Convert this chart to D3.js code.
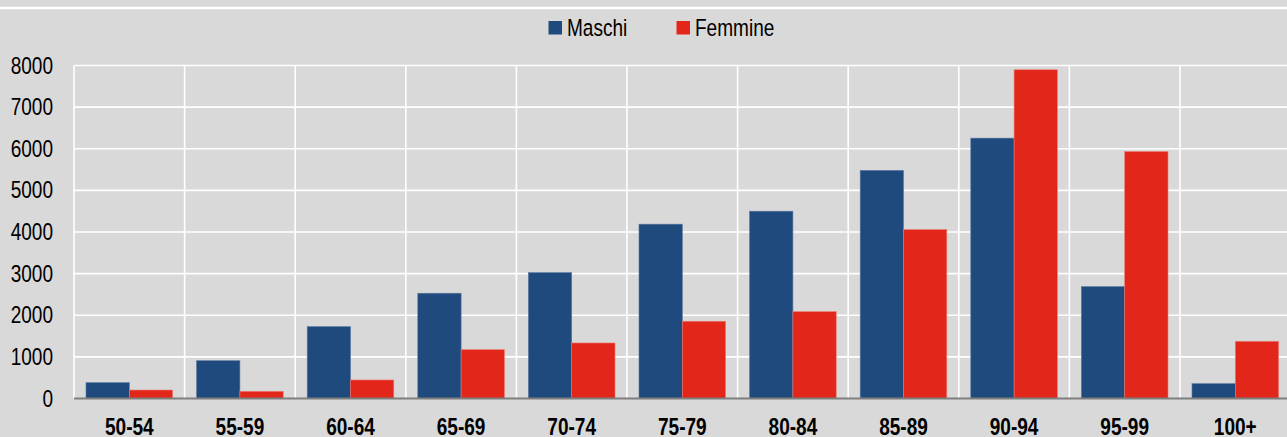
<!DOCTYPE html>
<html>
<head>
<meta charset="utf-8">
<script src="https://cdn.jsdelivr.net/npm/d3@7"></script>
<style>
  body { margin: 0; background: #d9d9d9; }
  svg { display: block; font-family: "Liberation Sans", Arial, sans-serif; }
</style>
</head>
<body>
<svg id="age_chart" width="1287" height="437"></svg>
<script>
// data
const age_groups = ["50-54", "55-59", "60-64", "65-69", "70-74", "75-79", "80-84", "85-89", "90-94", "95-99", "100+"];
const series_names = ["Maschi", "Femmine"];
const maschi = [380, 908, 1726, 2529, 3024, 4188, 4500, 5480, 6255, 2688, 356];
const femmine = [204, 173, 445, 1173, 1334, 1856, 2087, 4058, 7897, 5933, 1375];
const y_ticks = [0, 1000, 2000, 3000, 4000, 5000, 6000, 7000, 8000];

const series_colors = { Maschi: "#1f4a7d", Femmine: "#e3261a" };
const squeeze = 0.81; // the text in the picture is narrowed horizontally

const svg_age = d3.select("svg#age_chart");
const age_margin = { left: 74, top: 65.5, bottom: 398.5, right: 1290.6 };

svg_age.append("rect")
  .attr("width", 1287)
  .attr("height", 437)
  .attr("fill", "#d9d9d9");

// white rule at the top
svg_age.append("line")
  .attr("x1", 0).attr("x2", 1287)
  .attr("y1", 8).attr("y2", 8)
  .attr("stroke", "white")
  .attr("stroke-width", 2.5);

const x_scale = d3.scaleBand(age_groups, [age_margin.left, age_margin.right])
  .paddingInner(0).paddingOuter(0);
const sex_scale = d3.scaleBand(series_names, [0, x_scale.bandwidth()])
  .paddingInner(0).paddingOuter(0.277);
const y_scale = d3.scaleLinear([0, 8000], [age_margin.bottom, age_margin.top]);

const grid = svg_age.append("g").attr("id", "grid_group");

grid.selectAll("line.h_grid")
  .data(y_ticks.slice(1))
  .join("line")
  .attr("class", "h_grid")
  .attr("x1", age_margin.left)
  .attr("x2", age_margin.right)
  .attr("y1", d => y_scale(d))
  .attr("y2", d => y_scale(d))
  .attr("stroke", "white")
  .attr("stroke-width", 1.6);

grid.selectAll("line.v_grid")
  .data(age_groups)
  .join("line")
  .attr("class", "v_grid")
  .attr("x1", d => x_scale(d))
  .attr("x2", d => x_scale(d))
  .attr("y1", age_margin.top)
  .attr("y2", age_margin.bottom)
  .attr("stroke", "white")
  .attr("stroke-width", 1.6);

let bar_data = new Array();
for (i = 0; i < age_groups.length; i++) {
  bar_data.push({ group: age_groups[i], sex: "Maschi", value: maschi[i] });
  bar_data.push({ group: age_groups[i], sex: "Femmine", value: femmine[i] });
}

svg_age.append("g")
  .attr("id", "bar_group")
  .selectAll("rect.bar")
  .data(bar_data)
  .join("rect")
  .attr("class", "bar")
  .attr("x", d => x_scale(d.group) + sex_scale(d.sex))
  .attr("y", d => y_scale(d.value))
  .attr("width", sex_scale.bandwidth())
  .attr("height", d => y_scale(0) - y_scale(d.value))
  .attr("fill", d => series_colors[d.sex])
  .attr("stroke", d => d.sex == "Maschi" ? "#5a77a0" : "#ee7a72")
  .attr("stroke-width", 0.6);

// baseline
svg_age.append("line")
  .attr("x1", age_margin.left)
  .attr("x2", age_margin.right)
  .attr("y1", y_scale(0))
  .attr("y2", y_scale(0))
  .attr("stroke", "#7f7f7f")
  .attr("stroke-width", 2);

// y tick labels
svg_age.append("g")
  .selectAll("text.y_label")
  .data(y_ticks)
  .join("text")
  .attr("class", "y_label")
  .attr("transform", d => `translate(53, ${y_scale(d) + 8}) scale(${squeeze}, 1)`)
  .attr("text-anchor", "end")
  .attr("font-size", 23.5)
  .attr("fill", "#000")
  .text(d => d);

// x tick labels
svg_age.append("g")
  .selectAll("text.x_label")
  .data(age_groups)
  .join("text")
  .attr("class", "x_label")
  .attr("transform", d => `translate(${x_scale(d) + x_scale.bandwidth() / 2}, 435) scale(${squeeze}, 1)`)
  .attr("text-anchor", "middle")
  .attr("font-size", 23.5)
  .attr("font-weight", "bold")
  .attr("fill", "#000")
  .text(d => d);

// legend
const legend_x = { Maschi: 548.5, Femmine: 676.5 };
const legend = svg_age.append("g").attr("id", "legend_group");

legend.selectAll("rect.swatch")
  .data(series_names)
  .join("rect")
  .attr("class", "swatch")
  .attr("x", d => legend_x[d])
  .attr("y", 21)
  .attr("width", 13.5)
  .attr("height", 13.5)
  .attr("fill", d => series_colors[d]);

legend.selectAll("text.legend_label")
  .data(series_names)
  .join("text")
  .attr("class", "legend_label")
  .attr("transform", d => `translate(${legend_x[d] + 18.5}, 35.5) scale(${squeeze}, 1)`)
  .attr("font-size", 23.5)
  .attr("fill", "#000")
  .text(d => d);
</script>
</body>
</html>
